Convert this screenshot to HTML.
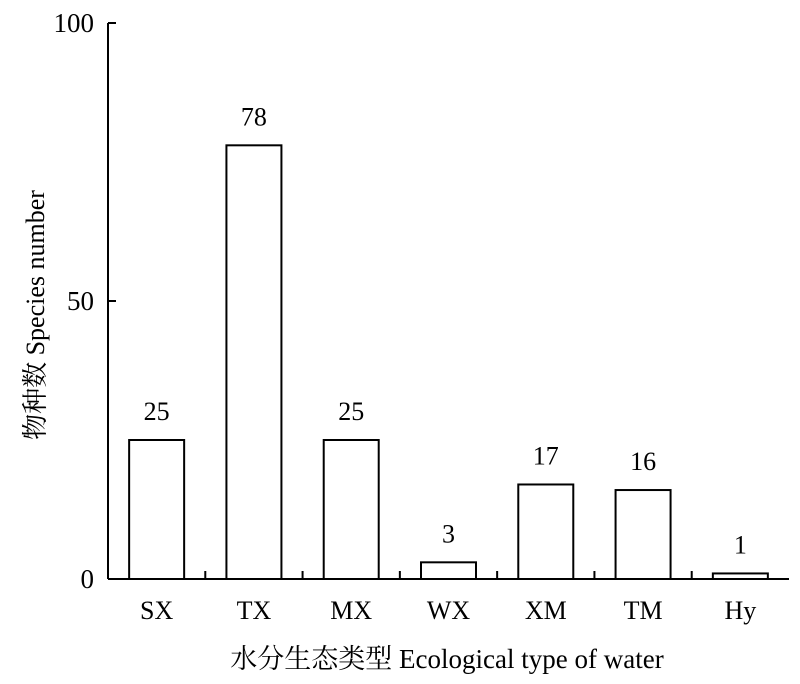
<!DOCTYPE html>
<html><head><meta charset="utf-8"><style>
body{margin:0;background:#fff;}
svg{display:block;font-family:"Liberation Serif","Noto Serif CJK SC",serif;}
</style></head><body>
<svg id="chart" width="800" height="684">
<g id="marks"></g>
<text transform="translate(44,315) rotate(-90)" text-anchor="middle" font-size="26">物种数 Species number</text>
<text x="447" y="668" text-anchor="middle" font-size="27">水分生态类型 Ecological type of water</text>
</svg>
<script>
const categories = ["SX","TX","MX","WX","XM","TM","Hy"];
const values = [25,78,25,3,17,16,1];
const yTicks = [0,50,100];
const X0=108, X1=789, Y0=579, Y1=23, YMAX=100;
const step=(X1-X0)/categories.length;
const y=v=>Y0-(v/YMAX)*(Y0-Y1);
const xc=i=>X0+step*(i+0.5);
const g=document.getElementById('marks');
const NS='http://www.w3.org/2000/svg';
function mk(t,a){const e=document.createElementNS(NS,t);for(const k in a)e.setAttribute(k,a[k]);g.appendChild(e);return e;}
const bw=55;
values.forEach((v,i)=>{
  const r=mk('rect',{x:xc(i)-bw/2,y:y(v),width:bw,height:Y0-y(v),fill:'#fff',stroke:'#000','stroke-width':2});
  
  
  const t=mk('text',{x:xc(i),y:y(v)-20,'text-anchor':'middle','font-size':26});
  t.textContent=v;
  
  
  const c=mk('text',{x:xc(i),y:619,'text-anchor':'middle','font-size':26});
  c.textContent=categories[i];
  
  
  if(i>0){const tk=mk('line',{x1:X0+step*i,x2:X0+step*i,y1:Y0,y2:Y0-8,stroke:'#000','stroke-width':2});
  
  }
});
const ax=mk('line',{x1:X0,x2:X1,y1:Y0,y2:Y0,stroke:'#000','stroke-width':2});


const ay=mk('line',{x1:X0,x2:X0,y1:Y1,y2:Y0,stroke:'#000','stroke-width':2});


yTicks.forEach(v=>{
  const l=mk('line',{x1:X0,x2:X0+8,y1:y(v),y2:y(v),stroke:'#000','stroke-width':2});
  
  
  const t=mk('text',{x:94,y:y(v)+9,'text-anchor':'end','font-size':27});
  t.textContent=v;
  
  
});
</script>
</body></html>
